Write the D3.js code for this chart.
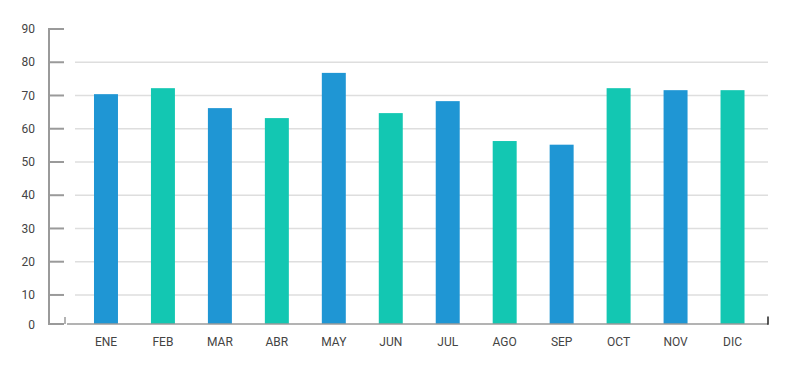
<!DOCTYPE html>
<html>
<head>
<meta charset="utf-8">
<script src="https://cdn.jsdelivr.net/npm/d3@7"></script>
<style>
  html, body { margin: 0; padding: 0; background: #fff; }
  svg { display: block; font-family: Roboto, "Noto Sans", Arial, sans-serif; }
</style>
</head>
<body>
<svg id="chart" width="805" height="380"></svg>
<script>
const categories = ["ENE","FEB","MAR","ABR","MAY","JUN","JUL","AGO","SEP","OCT","NOV","DIC"];
const values = [70.4, 72.2, 66.2, 63.2, 76.8, 64.7, 68.3, 56.3, 55.2, 72.2, 71.6, 71.6];
const yTicks = [0, 10, 20, 30, 40, 50, 60, 70, 80, 90];
const palette = ["#1f96d4", "#13c7b2"];

const svg = d3.select("#chart");
const baseY = 324;
const axisX = 49;

const x = d3.scaleBand().domain(categories).range([77.5, 761]).paddingInner(0.579).paddingOuter(0.2895);
const y = d3.scaleLinear().domain([0, 90]).range([328.2, 29]);
const yPos = v => Math.min(y(v), baseY);

// gridlines
svg.append("g").selectAll("line")
  .data(yTicks.filter(t => t > 0 && t < 90))
  .join("line")
  .attr("x1", 75).attr("x2", 768)
  .attr("y1", d => yPos(d)).attr("y2", d => yPos(d))
  .attr("stroke", "#dedede").attr("stroke-width", 1.5);

// bars
svg.append("g").selectAll("rect")
  .data(values)
  .join("rect")
  .attr("x", (d, i) => x(categories[i]))
  .attr("width", x.bandwidth())
  .attr("y", d => y(d))
  .attr("height", d => baseY - y(d))
  .attr("fill", (d, i) => palette[i % 2]);

// y axis
const yAxis = svg.append("g");
yAxis.append("line")
  .attr("x1", axisX).attr("x2", axisX)
  .attr("y1", yPos(90)).attr("y2", baseY)
  .attr("stroke", "#9a9a9a").attr("stroke-width", 2);
yAxis.selectAll("line.tick")
  .data(yTicks)
  .join("line")
  .attr("class", "tick")
  .attr("x1", axisX - 1).attr("x2", 64)
  .attr("y1", d => yPos(d)).attr("y2", d => yPos(d))
  .attr("stroke", "#9a9a9a").attr("stroke-width", 2);
yAxis.selectAll("text")
  .data(yTicks)
  .join("text")
  .attr("x", 35)
  .attr("y", d => yPos(d) + (d === 0 ? 1 : 0))
  .attr("dy", "0.35em")
  .attr("text-anchor", "end")
  .attr("font-size", 12)
  .attr("fill", "#444")
  .text(d => d);

// x axis
const xAxis = svg.append("g");
xAxis.append("line")
  .attr("x1", 65).attr("x2", 65).attr("y1", 317).attr("y2", baseY)
  .attr("stroke", "#9a9a9a").attr("stroke-width", 1.5);
xAxis.append("line")
  .attr("x1", 67).attr("x2", 768).attr("y1", baseY).attr("y2", baseY)
  .attr("stroke", "#9a9a9a").attr("stroke-width", 1.5);
xAxis.append("line")
  .attr("x1", 768).attr("x2", 768).attr("y1", 316.5).attr("y2", baseY + 0.75)
  .attr("stroke", "#222").attr("stroke-width", 1.5);
xAxis.selectAll("text")
  .data(categories)
  .join("text")
  .attr("x", d => x(d) + x.bandwidth() / 2)
  .attr("y", 342)
  .attr("dy", "0.35em")
  .attr("text-anchor", "middle")
  .attr("font-size", 12)
  .attr("fill", "#444")
  .text(d => d);
</script>
</body>
</html>
